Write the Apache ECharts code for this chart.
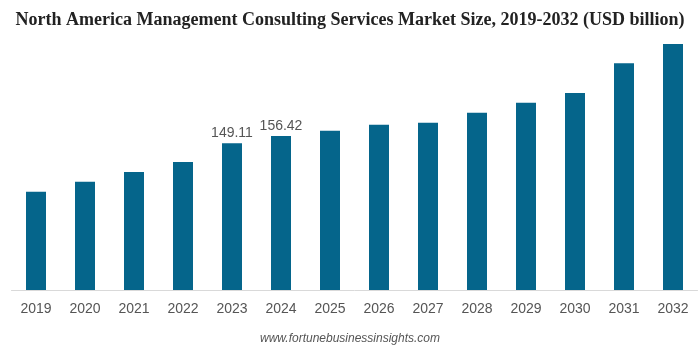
<!DOCTYPE html>
<html><head><meta charset="utf-8">
<script src="https://cdn.jsdelivr.net/npm/echarts@6/dist/echarts.min.js"></script>
<style>html,body{margin:0;padding:0;background:#fff}#c{width:700px;height:348px}</style>
</head><body><div id="c"></div>
<script>
const titleText = 'North America Management Consulting Services Market Size, 2019-2032 (USD billion)';
const sourceText = 'www.fortunebusinessinsights.com';
const years = ['2019','2020','2021','2022','2023','2024','2025','2026','2027','2028','2029','2030','2031','2032'];
const values = [99.9, 110.1, 119.9, 130.1, 149.11, 156.42, 161.9, 168.0, 170.1, 180.2, 190.4, 200.3, 230.4, 250.1];
const labelledYears = ['2023', '2024'];

const chart = echarts.init(document.getElementById('c'), null, {renderer: 'canvas'});
chart.setOption({
  animation: false,
  title: [{
    text: titleText, left: 'center', top: 6,
    textStyle: {fontFamily: 'Liberation Serif', fontWeight: 'bold', fontSize: 18, color: '#222'}
  }, {
    text: sourceText, left: 'center', top: 328,
    textStyle: {fontFamily: 'Liberation Sans', fontStyle: 'italic', fontWeight: 'normal', fontSize: 12, color: '#555'}
  }],
  grid: {left: 11.5, right: 2.5, top: 34.2, bottom: 58, containLabel: false},
  xAxis: {
    type: 'category', data: years,
    axisLine: {show: true, lineStyle: {color: '#d9d9d9', width: 1}},
    axisTick: {show: false},
    axisLabel: {color: '#555', fontFamily: 'Liberation Sans', fontSize: 14, margin: 12}
  },
  yAxis: {type: 'value', min: 0, max: 260, show: false, splitLine: {show: false}},
  series: [{
    type: 'bar', barWidth: 20,
    data: values.map((v, i) => ({
      value: v,
      label: {show: labelledYears.includes(years[i]), position: 'top', distance: 3,
        color: '#555', fontFamily: 'Liberation Sans', fontSize: 14}
    })),
    itemStyle: {color: '#05658b'}
  }]
});
</script></body></html>
